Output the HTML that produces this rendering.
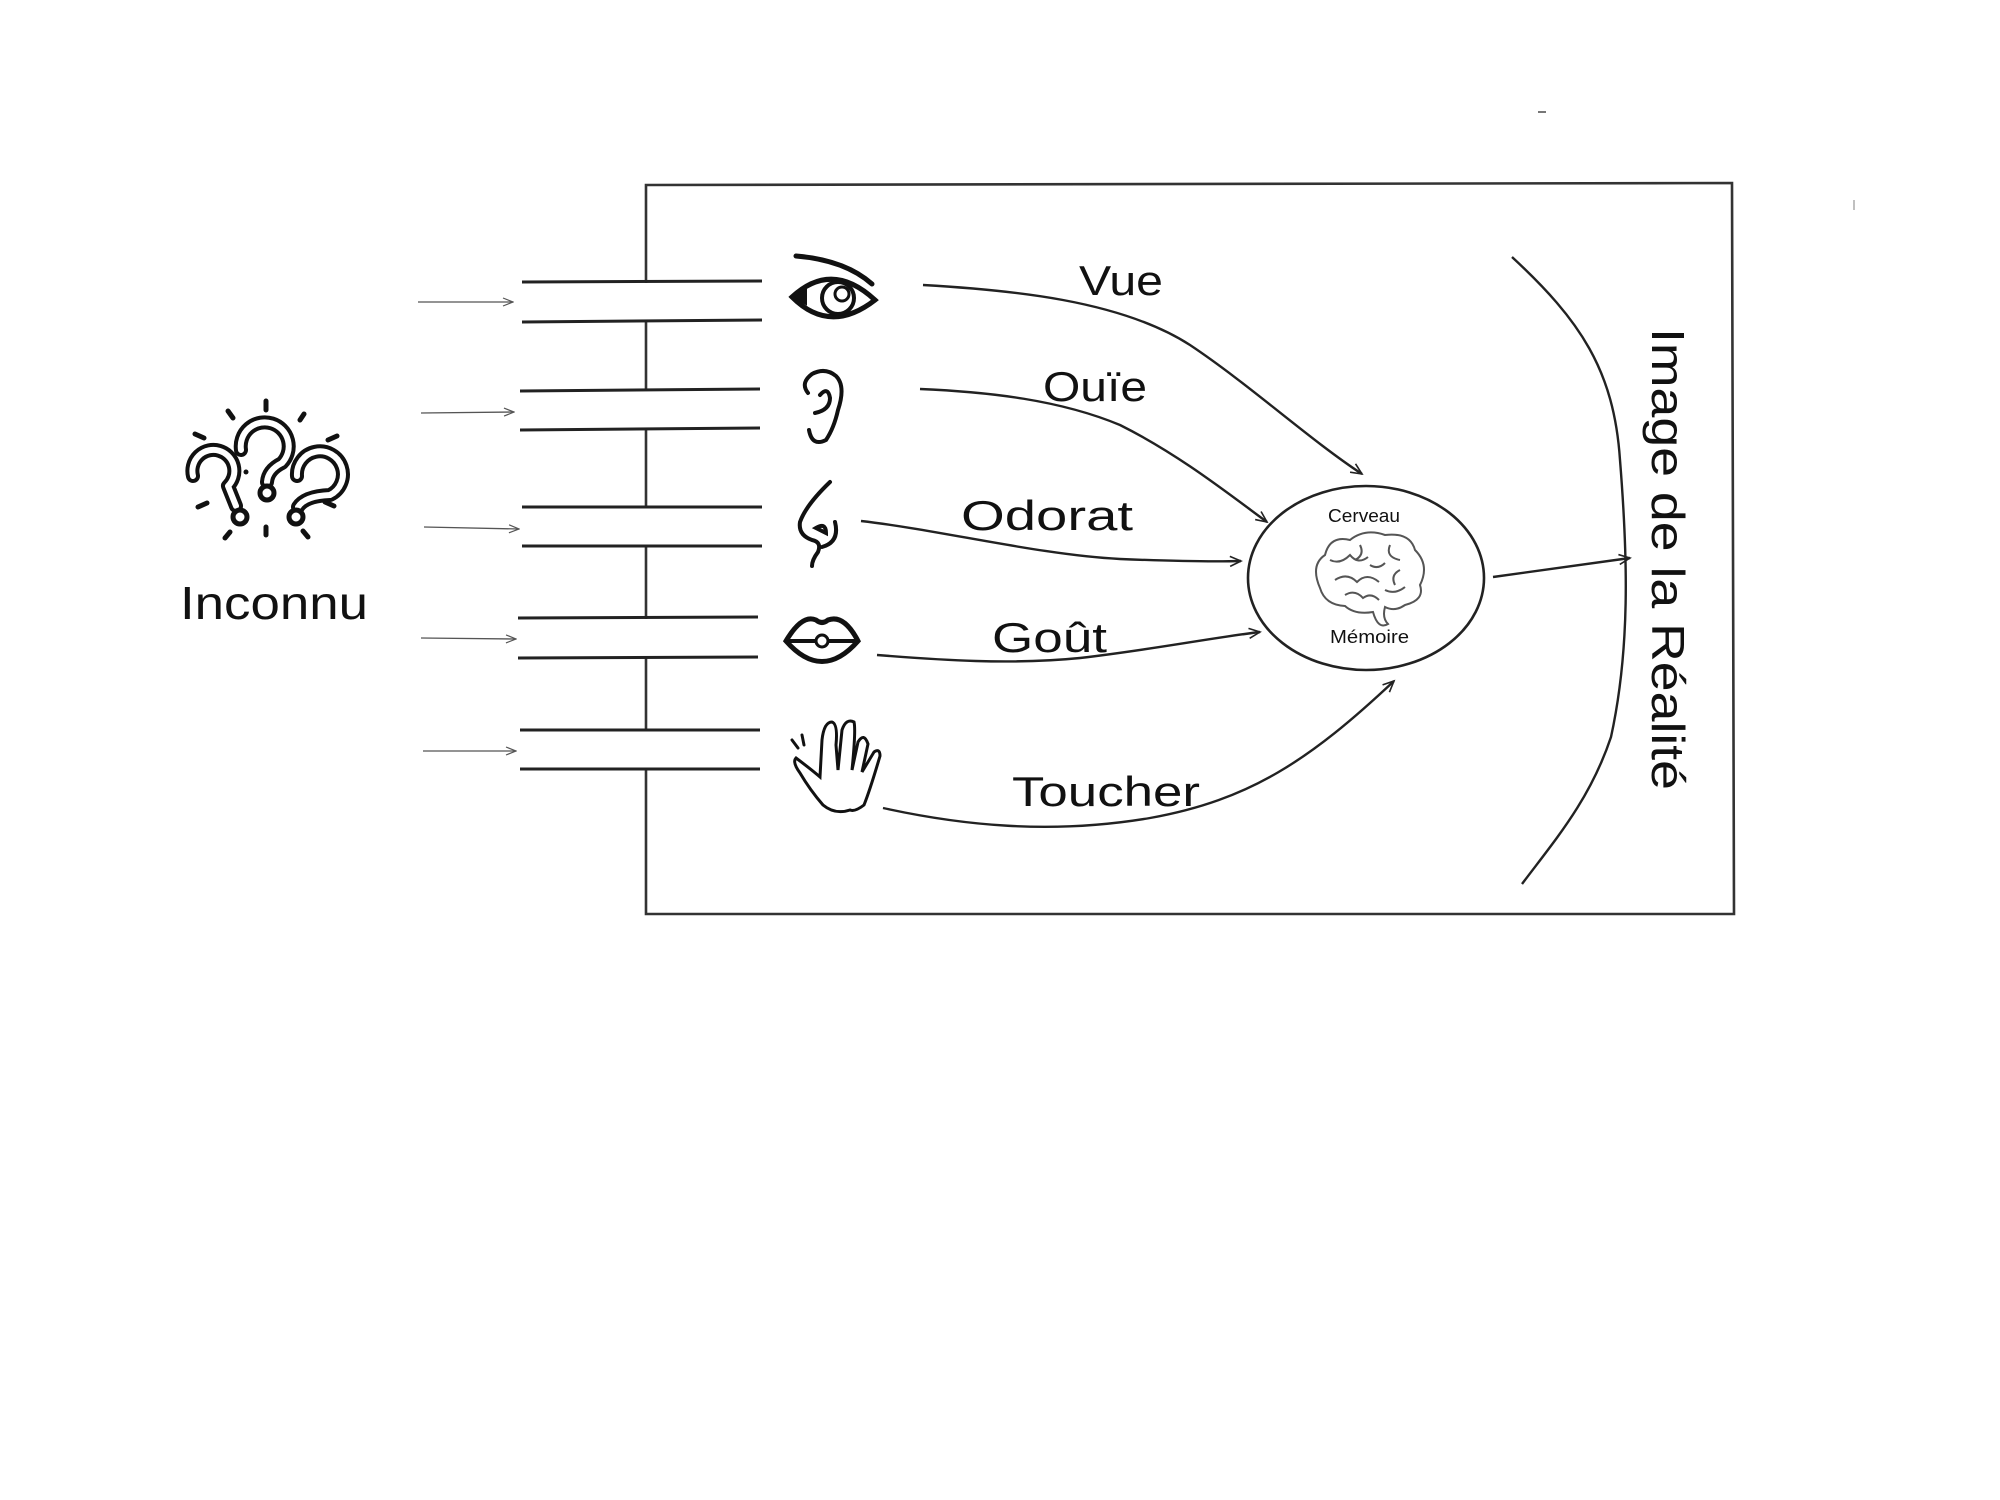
<!DOCTYPE html>
<html><head><meta charset="utf-8"><style>
html,body{margin:0;padding:0;background:#fff;width:2000px;height:1500px;overflow:hidden}
svg{display:block}
.t{font-family:"Liberation Sans",sans-serif;fill:#111}
</style></head><body>
<svg width="2000" height="1500" viewBox="0 0 2000 1500" xmlns="http://www.w3.org/2000/svg">
<defs>
<marker id="a" markerWidth="14" markerHeight="12" refX="12" refY="6" orient="auto" markerUnits="userSpaceOnUse">
<path d="M1,1 L12,6 L1,11" fill="none" stroke="#222" stroke-width="1.6"/></marker>
<marker id="b" markerWidth="12" markerHeight="10" refX="11" refY="5" orient="auto" markerUnits="userSpaceOnUse">
<path d="M1,1 L11,5 L1,9" fill="none" stroke="#555" stroke-width="1.2"/></marker>
</defs>
<line x1="1538" y1="112" x2="1546" y2="112" stroke="#777" stroke-width="2"/>
<line x1="1854" y1="200" x2="1854" y2="210" stroke="#aaa" stroke-width="1.5"/>
<path d="M646,185 L1732,183 L1734,914 L646,914 Z" fill="none" stroke="#333" stroke-width="2.6"/>
<g stroke="#222" stroke-width="3">
<rect x="522" y="283" width="240" height="38" fill="#fff" stroke="none"/>
<line x1="522" y1="282" x2="762" y2="281"/><line x1="522" y1="322" x2="762" y2="320"/>
<rect x="522" y="391" width="240" height="38" fill="#fff" stroke="none"/>
<line x1="520" y1="391" x2="760" y2="389"/><line x1="520" y1="430" x2="760" y2="428"/>
<rect x="522" y="508" width="240" height="38" fill="#fff" stroke="none"/>
<line x1="522" y1="507" x2="762" y2="507"/><line x1="522" y1="546" x2="762" y2="546"/>
<rect x="518" y="619" width="240" height="38" fill="#fff" stroke="none"/>
<line x1="518" y1="618" x2="758" y2="617"/><line x1="518" y1="658" x2="758" y2="657"/>
<rect x="520" y="731" width="240" height="38" fill="#fff" stroke="none"/>
<line x1="520" y1="730" x2="760" y2="730"/><line x1="520" y1="769" x2="760" y2="769"/>
</g>
<g stroke="#555" stroke-width="1.3" marker-end="url(#b)">
<line x1="418" y1="302" x2="513" y2="302"/>
<line x1="421" y1="413" x2="514" y2="412"/>
<line x1="424" y1="527" x2="519" y2="529"/>
<line x1="421" y1="638" x2="516" y2="639"/>
<line x1="423" y1="751" x2="516" y2="751"/>
</g>
<!-- question icon -->
<g fill="none" stroke-linecap="round" stroke-linejoin="round">
<g stroke="#111" stroke-width="14">
<path d="M193,476 A21,21 0 1 1 228,486 L236,506"/>
<path d="M297,476 A23,23 0 1 1 330,495 Q305,496 298,507"/>
</g>
<g stroke="#fff" stroke-width="6">
<path d="M193,476 A21,21 0 1 1 228,486 L236,506"/>
<path d="M297,476 A23,23 0 1 1 330,495 Q305,496 298,507"/>
</g>
<path d="M241,450 A24,24 0 1 1 282,463 Q268,470 267,482" stroke="#111" stroke-width="14"/>
<path d="M241,450 A24,24 0 1 1 282,463 Q268,470 267,482" stroke="#fff" stroke-width="6"/>
<g fill="#fff" stroke="#111" stroke-width="5">
<circle cx="267" cy="493" r="7"/><circle cx="240" cy="517" r="7"/><circle cx="296" cy="517" r="7"/>
</g>
<circle cx="246" cy="472" r="2.5" fill="#111"/>
<path stroke="#111" stroke-width="5" d="M266,401 v9 M228,411 l5,7 M304,414 l-4,6 M195,434 l9,4 M337,436 l-9,4 M198,507 l9,-4 M334,506 l-9,-4 M225,538 l5,-6 M266,527 v8 M308,537 l-5,-6"/>
</g>
<text class="t" x="180" y="619" font-size="46" textLength="188" lengthAdjust="spacingAndGlyphs">Inconnu</text>
<g stroke="#111" fill="none" stroke-linecap="round">
<path d="M796,256 Q845,260 872,284" stroke-width="5"/>
<path d="M792,297 Q832,260 875,300 Q830,335 792,297 Z" stroke-width="5" fill="#fff"/>
<path d="M792,297 L806,290 L806,304 Z" fill="#111" stroke-width="2"/>
<circle cx="838" cy="298" r="16" stroke-width="4"/>
<circle cx="842" cy="294" r="7" stroke-width="3"/>
</g>
<path d="M809,430 Q812,447 826,440 Q834,428 838,410 Q846,386 836,376 Q825,367 812,374 Q800,383 808,393 M820,395 Q828,386 830,398 Q830,410 815,413" fill="none" stroke="#111" stroke-width="4" stroke-linecap="round"/>
<path d="M830,482 Q806,505 800,522 Q798,535 812,540 Q822,542 818,552 Q812,560 812,566 M816,528 Q826,522 826,533 Z M835,522 Q840,542 822,547" fill="none" stroke="#111" stroke-width="4" stroke-linecap="round"/>
<g stroke="#111" stroke-width="5" fill="none">
<path d="M786,641 Q802,614 816,620 Q822,625 828,620 Q844,614 858,641 Q822,682 786,641 Z"/>
<line x1="786" y1="641" x2="858" y2="641" stroke-width="4"/>
<circle cx="822" cy="641" r="6" fill="#fff" stroke-width="3"/>
</g>
<g stroke="#111" stroke-width="3" fill="none" stroke-linecap="round">
<path d="M796,758 Q812,770 820,777 L822,740 Q824,722 832,722 Q838,724 836,745 L838,770 L842,730 Q846,718 854,722 Q856,730 852,770 L858,742 Q864,732 868,744 L862,772 L874,752 Q880,748 880,756 Q870,790 864,805 Q855,812 850,810 Q835,815 823,805 Q810,790 800,773 Q792,762 796,758 Z"/>
<path d="M798,748 l-6,-8 M804,745 l-2,-10"/>
</g>
<g fill="none" stroke="#222" stroke-width="2.4" marker-end="url(#a)">
<path d="M923,285 C1010,290 1120,300 1190,345 C1250,385 1310,440 1362,474"/>
<path d="M920,389 C990,392 1060,400 1120,425 C1180,455 1230,495 1267,522"/>
<path d="M861,521 C940,530 1040,555 1120,559 C1170,561 1210,562 1241,561"/>
<path d="M877,655 C940,660 1010,665 1080,658 C1150,650 1210,638 1260,632"/>
<path d="M883,808 C960,825 1050,835 1150,818 C1250,800 1310,760 1394,681"/>
<path d="M1493,577 L1630,558"/>
</g>
<g class="t" font-size="42">
<text x="1079" y="295" textLength="84" lengthAdjust="spacingAndGlyphs">Vue</text>
<text x="1043" y="401" textLength="104" lengthAdjust="spacingAndGlyphs">Ouïe</text>
<text x="961" y="530" textLength="172" lengthAdjust="spacingAndGlyphs">Odorat</text>
<text x="992" y="652" textLength="115" lengthAdjust="spacingAndGlyphs">Goût</text>
<text x="1012" y="806" textLength="188" lengthAdjust="spacingAndGlyphs">Toucher</text>
</g>
<ellipse cx="1366" cy="578" rx="118" ry="92" fill="#fff" stroke="#222" stroke-width="2.6"/>
<text class="t" x="1328" y="522" font-size="18" textLength="72" lengthAdjust="spacingAndGlyphs">Cerveau</text>
<text class="t" x="1330" y="643" font-size="18" textLength="79" lengthAdjust="spacingAndGlyphs">Mémoire</text>
<g fill="none" stroke="#555" stroke-width="2">
<path d="M1320,588 Q1310,565 1325,555 Q1330,535 1350,540 Q1365,528 1385,535 Q1410,532 1415,550 Q1430,565 1420,585 Q1425,600 1405,605 Q1395,612 1385,607 Q1382,618 1388,624 Q1378,630 1373,612 Q1355,615 1345,606 Q1325,605 1320,588 Z"/>
<path d="M1330,560 q10,5 20,-5 q8,10 18,2 M1335,580 q12,-8 22,2 q10,-10 22,0 M1360,545 q5,10 -5,15 M1390,545 q-5,12 10,15 M1345,595 q10,-6 18,3 q8,-6 16,2 M1400,570 q-10,5 -5,15 M1370,565 q8,5 15,-2 M1385,590 q10,5 20,-3"/>
</g>
<path d="M1512,257 C1580,320 1614,370 1620,460 C1628,560 1630,650 1611,737 C1590,800 1555,840 1522,884" fill="none" stroke="#222" stroke-width="2.4"/>
<text class="t" font-size="46" transform="translate(1652,328) rotate(90)" textLength="462" lengthAdjust="spacingAndGlyphs">Image de la Réalité</text>
</svg>
</body></html>
